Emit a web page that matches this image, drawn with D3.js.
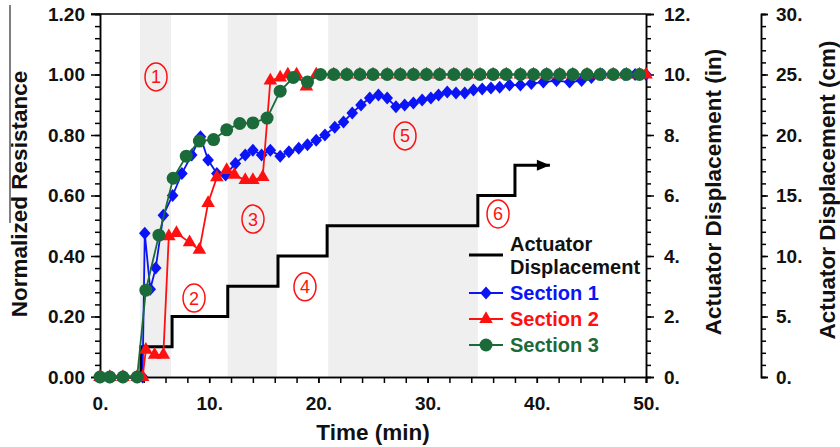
<!DOCTYPE html>
<html>
<head>
<meta charset="utf-8">
<script src="https://cdn.jsdelivr.net/npm/d3@7"></script>
<style>
html,body{margin:0;padding:0;background:#fff;}
svg{display:block;font-family:"Liberation Sans",Arial,sans-serif;}
</style>
</head>
<body>
<svg id="chart" width="840" height="447"></svg>
<script>
// ---------------- DATA ----------------
const bands = [[3.66, 6.5], [11.7, 16.2], [20.9, 34.6]];

const actuatorTime = [0, 3.75, 6.6, 11.7, 16.3, 20.8, 34.6, 38.0, 41.2];
const actuatorIn   = [0, 1, 2, 3, 4, 5, 6, 7, 7];

const s1Time = [0, 0.9, 2.1, 3.4, 3.9, 4.1, 4.6, 5.1, 5.8, 6.65, 7.5, 8.4, 9.2, 9.9, 10.7, 11.5, 12.4, 13.3, 14.0, 14.8, 15.6, 16.5, 17.3, 18.2, 19.0, 19.8, 20.6, 21.5, 22.3, 23.1, 23.9, 24.7, 25.5, 26.3, 27.1, 27.9, 28.7, 29.5, 30.3, 31.0, 31.8, 32.6, 33.4, 34.2, 35.0, 35.8, 36.6, 37.5, 38.5, 39.5, 40.6, 41.8, 43.0, 44.1, 45.0, 46.0, 47.0, 48.0, 49.0, 50.0];
const s1Val  = [0, 0, 0, 0, 0, 0.475, 0.29, 0.36, 0.535, 0.60, 0.673, 0.734, 0.794, 0.717, 0.673, 0.668, 0.706, 0.734, 0.75, 0.734, 0.75, 0.73, 0.745, 0.756, 0.768, 0.783, 0.80, 0.826, 0.843, 0.873, 0.899, 0.922, 0.932, 0.922, 0.893, 0.899, 0.906, 0.916, 0.922, 0.932, 0.942, 0.939, 0.939, 0.949, 0.952, 0.955, 0.958, 0.965, 0.965, 0.97, 0.975, 0.98, 0.975, 0.98, 0.99, 1.0, 1.0, 1.0, 1.0, 1.0];

const s2Time = [0, 0.9, 2.1, 3.4, 3.9, 4.2, 5.0, 5.8, 6.3, 7.0, 8.2, 9.1, 9.9, 10.7, 11.6, 12.3, 13.3, 14.0, 14.9, 15.6, 16.5, 17.2, 18.0, 18.9, 19.8, 21.4, 22.6, 23.8, 25.0, 26.3, 27.5, 28.7, 29.9, 31.1, 32.4, 33.6, 34.8, 36.0, 37.2, 38.5, 39.7, 40.9, 42.1, 43.3, 44.6, 45.8, 47.0, 48.2, 49.4, 50.0];
const s2Val  = [0, 0, 0, 0, 0, 0.09, 0.073, 0.073, 0.465, 0.476, 0.445, 0.42, 0.575, 0.66, 0.684, 0.668, 0.651, 0.651, 0.661, 0.98, 0.99, 1.0, 1.0, 0.96, 1.0, 1.0, 1.0, 1.0, 1.0, 1.0, 1.0, 1.0, 1.0, 1.0, 1.0, 1.0, 1.0, 1.0, 1.0, 1.0, 1.0, 1.0, 1.0, 1.0, 1.0, 1.0, 1.0, 1.0, 1.0, 1.0];

const s3Time = [0, 0.9, 2.1, 3.4, 4.2, 5.4, 6.7, 7.9, 9.1, 10.4, 11.6, 12.8, 14.0, 15.3, 16.5, 17.7, 19.0, 20.2, 21.4, 22.6, 23.8, 25.0, 26.3, 27.5, 28.7, 29.9, 31.1, 32.4, 33.6, 34.8, 36.0, 37.2, 38.5, 39.7, 40.9, 42.1, 43.3, 44.6, 45.8, 47.0, 48.2, 49.4];
const s3Val  = [0, 0, 0, 0, 0.287, 0.469, 0.657, 0.73, 0.78, 0.785, 0.817, 0.838, 0.84, 0.856, 0.945, 0.99, 0.975, 1.0, 1.0, 1.0, 1.0, 1.0, 1.0, 1.0, 1.0, 1.0, 1.0, 1.0, 1.0, 1.0, 1.0, 1.0, 1.0, 1.0, 1.0, 1.0, 1.0, 1.0, 1.0, 1.0, 1.0, 1.0];

const annoLabels = ["1", "2", "3", "4", "5", "6"];
const annoTime   = [5.13, 8.61, 14.01, 18.77, 27.93, 36.45];
const annoVal    = [0.992, 0.261, 0.522, 0.298, 0.797, 0.539];

const leftTicks  = [0, 0.2, 0.4, 0.6, 0.8, 1.0, 1.2];
const xTicks     = [0, 10, 20, 30, 40, 50];
const inTicks    = [0, 2, 4, 6, 8, 10, 12];
const cmTicks    = [0, 5, 10, 15, 20, 25, 30];

// ---------------- STYLE ----------------
const BLUE = "#0a14f5", RED = "#ff1010", GREEN = "#1b6a39";

const svg = d3.select("#chart");
const x = d3.scaleLinear([0, 50], [100, 646]);
const y = d3.scaleLinear([0, 1.2], [377, 14]);
const yIn = d3.scaleLinear([0, 12], [377, 14]);
const yCm = d3.scaleLinear([0, 30], [377, 14]);

// stray line at left edge
svg.append("line").attr("x1", 10).attr("x2", 10).attr("y1", 5).attr("y2", 223)
  .attr("stroke", "#000").attr("stroke-width", 1);

// bands
svg.append("g").selectAll("rect").data(bands).join("rect")
  .attr("x", d => x(d[0])).attr("width", d => x(d[1]) - x(d[0]))
  .attr("y", y(1.2)).attr("height", y(0) - y(1.2))
  .attr("fill", "#efefef");

// axes helper
function styleAxis(g) {
  g.selectAll("path.domain").attr("stroke", "#000").attr("stroke-width", 1.5);
  g.selectAll(".tick line").attr("stroke", "#000").attr("stroke-width", 1.5);
  g.selectAll("text").attr("font-size", 19).attr("font-weight", "bold").attr("fill", "#111")
    .attr("font-family", "'Liberation Sans', Arial, sans-serif");
}
function range(a, b, s) { const r = []; for (let v = a; v <= b + 1e-9; v += s) r.push(+v.toFixed(4)); return r; }

// left axis minor
svg.append("g").attr("transform", `translate(${x(0)},0)`)
  .call(d3.axisLeft(y).tickValues(range(0, 1.2, 0.04)).tickSize(5).tickFormat(""))
  .call(styleAxis);
svg.append("g").attr("transform", `translate(${x(0)},0)`)
  .call(d3.axisLeft(y).tickValues(leftTicks).tickSize(9).tickPadding(6).tickFormat(d3.format(".2f")))
  .call(styleAxis);

// bottom axis
svg.append("g").attr("transform", `translate(0,${y(0)})`)
  .call(d3.axisBottom(x).tickValues(range(0, 50, 2)).tickSize(6).tickFormat(""))
  .call(styleAxis);
svg.append("g").attr("transform", `translate(0,${y(0)})`)
  .call(d3.axisBottom(x).tickValues(xTicks).tickSize(6).tickPadding(14).tickFormat(d => d + "."))
  .call(styleAxis);

// right axis (in)
svg.append("g").attr("transform", `translate(${x(50)},0)`)
  .call(d3.axisRight(yIn).tickValues(range(0, 12, 0.4)).tickSize(5).tickFormat(""))
  .call(styleAxis);
svg.append("g").attr("transform", `translate(${x(50)},0)`)
  .call(d3.axisRight(yIn).tickValues(inTicks).tickSize(8).tickPadding(10).tickFormat(d => d + "."))
  .call(styleAxis);

// far right axis (cm)
svg.append("g").attr("transform", `translate(761,0)`)
  .call(d3.axisRight(yCm).tickValues(range(0, 30, 1)).tickSize(5).tickFormat(""))
  .call(styleAxis);
svg.append("g").attr("transform", `translate(761,0)`)
  .call(d3.axisRight(yCm).tickValues(cmTicks).tickSize(7).tickPadding(8).tickFormat(d => d + "."))
  .call(styleAxis);

// top frame
svg.append("line").attr("x1", x(0) - 9).attr("x2", x(50)).attr("y1", y(1.2)).attr("y2", y(1.2))
  .attr("stroke", "#000").attr("stroke-width", 1.5);

// titles
function title(tx, ty, rot, txt) {
  svg.append("text").attr("transform", `translate(${tx},${ty})` + (rot ? " rotate(-90)" : ""))
    .attr("text-anchor", "middle").attr("font-size", 22.5).attr("font-weight", "bold").attr("fill", "#111")
    .text(txt);
}
title(27, 194, true, "Normalized Resistance");
title((x(0) + x(50)) / 2, 440, false, "Time (min)");
title(721, 192, true, "Actuator Displacement (in)");
title(835, 190, true, "Actuator Displacement (cm)");

// actuator step line
const act = actuatorTime.map((t, i) => [t, actuatorIn[i]]);
svg.append("path").datum(act)
  .attr("d", d3.line().x(d => x(d[0])).y(d => yIn(d[1])).curve(d3.curveStepAfter))
  .attr("fill", "none").attr("stroke", "#000").attr("stroke-width", 3);
const last = act[act.length - 1];
svg.append("path")
  .attr("d", `M${x(last[0])},${yIn(last[1])} l-13,-5.5 l0,11 z`)
  .attr("fill", "#000");

// series
const triangle = d3.symbol().type(d3.symbolTriangle).size(80);
function drawSeries(times, vals, color, markerFn) {
  const pts = times.map((t, i) => [t, vals[i]]);
  const g = svg.append("g");
  g.append("path").datum(pts)
    .attr("d", d3.line().x(d => x(d[0])).y(d => y(d[1])))
    .attr("fill", "none").attr("stroke", color).attr("stroke-width", 1.8);
  markerFn(g.selectAll(".m").data(pts).join("g")
    .attr("transform", d => `translate(${x(d[0])},${y(d[1])})`), color);
}
const diamondM = (sel, c) => sel.append("path").attr("d", "M0,-6.5L5.8,0L0,6.5L-5.8,0Z").attr("fill", c);
const triM = (sel, c) => sel.append("path").attr("d", triangle).attr("fill", c);
const circM = (sel, c) => sel.append("circle").attr("r", 6.5).attr("fill", c);

drawSeries(s1Time, s1Val, BLUE, diamondM);
drawSeries(s2Time, s2Val, RED, triM);
drawSeries(s3Time, s3Val, GREEN, circM);

// annotations
const ag = svg.append("g").selectAll("g").data(annoLabels).join("g")
  .attr("transform", (d, i) => `translate(${x(annoTime[i])},${y(annoVal[i])})`);
ag.append("ellipse").attr("rx", 11).attr("ry", 14).attr("fill", "none").attr("stroke", RED).attr("stroke-width", 1.5);
ag.append("text").attr("text-anchor", "middle").attr("dy", "0.36em").attr("font-size", 18)
  .attr("fill", RED).text(d => d);

// legend
const lg = svg.append("g");
lg.append("line").attr("x1", 469).attr("x2", 503).attr("y1", 255).attr("y2", 255).attr("stroke", "#000").attr("stroke-width", 3);
lg.append("text").attr("x", 510).attr("y", 251).attr("font-size", 20).attr("font-weight", "bold").attr("fill", "#111").text("Actuator");
lg.append("text").attr("x", 510).attr("y", 274).attr("font-size", 20).attr("font-weight", "bold").attr("fill", "#111").text("Displacement");
const legItems = [["Section 1", BLUE, diamondM, 293], ["Section 2", RED, triM, 319], ["Section 3", GREEN, circM, 345]];
legItems.forEach(([name, c, m, ly]) => {
  lg.append("line").attr("x1", 469).attr("x2", 503).attr("y1", ly).attr("y2", ly).attr("stroke", c).attr("stroke-width", 2);
  m(lg.append("g").attr("transform", `translate(486,${ly})`), c);
  lg.append("text").attr("x", 510).attr("y", ly + 7).attr("font-size", 20).attr("font-weight", "bold").attr("fill", c).text(name);
});
</script>
</body>
</html>
